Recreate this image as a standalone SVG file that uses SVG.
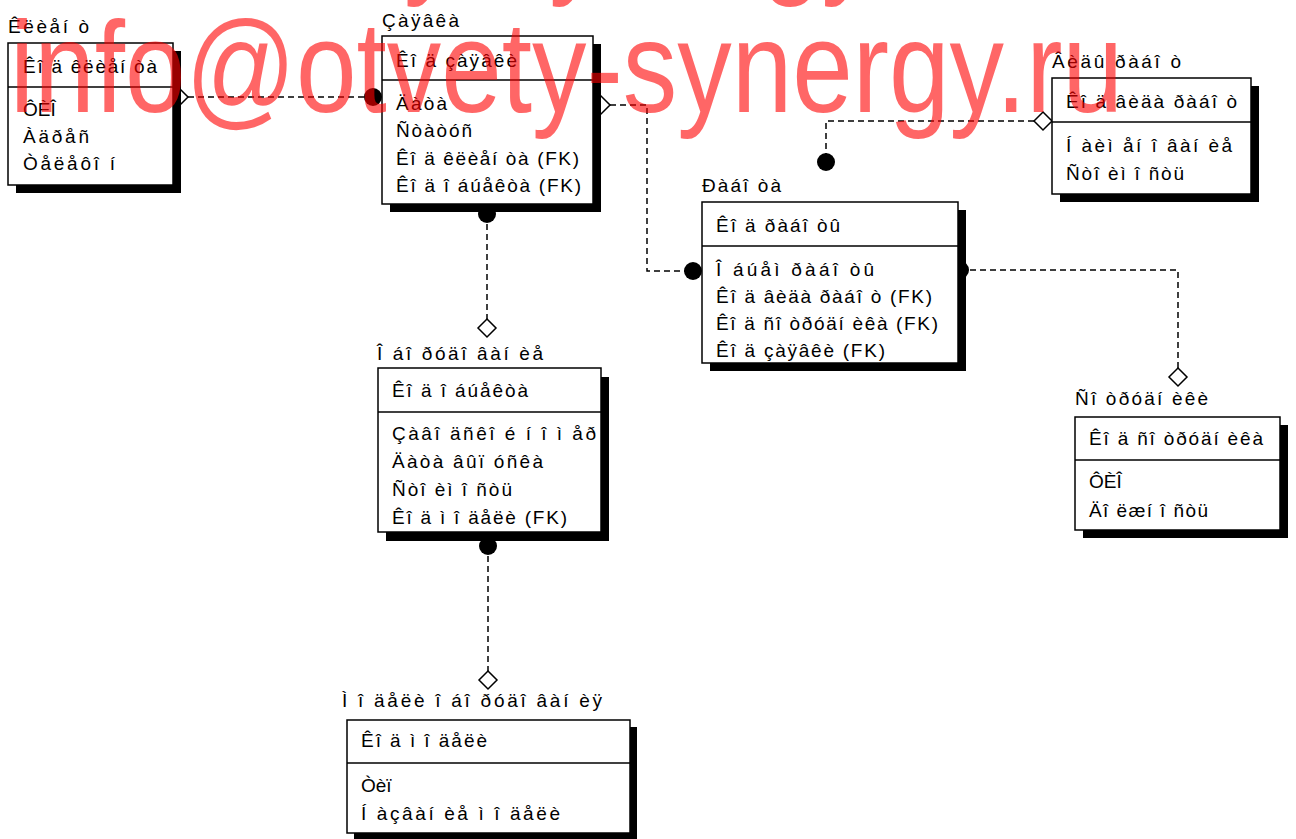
<svg xmlns="http://www.w3.org/2000/svg" width="1296" height="839" viewBox="0 0 1296 839">
<style>
.bg{fill:#ffffff}
.box{fill:#ffffff;stroke:#000;stroke-width:1.5}
.sh{fill:#000}
.dv{stroke:#000;stroke-width:1.5}
.t{font-family:"Liberation Sans",Arial,sans-serif;font-size:19px;fill:#000}
.cn{fill:none;stroke:#000;stroke-width:1.5;stroke-dasharray:6 4}
.dot{fill:#000}
.dia{fill:#fff;stroke:#000;stroke-width:1.5}
.wm{font-family:"Liberation Sans",Arial,sans-serif;font-size:108px;fill:#ff0000;fill-opacity:0.6}
</style>
<rect class="bg" x="0" y="0" width="1296" height="839"/>
<g id="connectors">
  <path class="cn" d="M188,97 H373"/>
  <polygon class="dia" points="170,97 179,88 188,97 179,106"/>
  <circle class="dot" cx="373" cy="97" r="9"/>
  <path class="cn" d="M610,105 H647 V271 H693"/>
  <polygon class="dia" points="592,105 601,96 610,105 601,114"/>
  <circle class="dot" cx="693" cy="271" r="9"/>
  <path class="cn" d="M1034,121 H826 V162"/>
  <polygon class="dia" points="1034,121 1043,112 1052,121 1043,130"/>
  <circle class="dot" cx="826" cy="162" r="9"/>
  <path class="cn" d="M960,270 H1178 V368"/>
  <circle class="dot" cx="960" cy="270" r="9"/>
  <polygon class="dia" points="1178,368 1187,377 1178,386 1169,377"/>
  <path class="cn" d="M487,214 V319"/>
  <circle class="dot" cx="487" cy="214" r="9"/>
  <polygon class="dia" points="487,319 496,328 487,337 478,328"/>
  <path class="cn" d="M488,546 V671"/>
  <circle class="dot" cx="488" cy="546" r="9"/>
  <polygon class="dia" points="488,671 497,680 488,689 479,680"/>
</g>
<g id="klient">
  <rect class="sh" x="16" y="51" width="165" height="142"/>
  <rect class="box" x="8" y="43" width="165" height="142"/>
  <line class="dv" x1="8" y1="87" x2="173" y2="87"/>
  <text class="t" x="8" y="33" textLength="81" lengthAdjust="spacing">Êëèåí ò</text>
  <text class="t" x="23" y="73" textLength="134" lengthAdjust="spacing">Êî ä êëèåí òà</text>
  <text class="t" x="23" y="116">ÔÈÎ</text>
  <text class="t" x="23" y="143" textLength="66" lengthAdjust="spacing">Àäðåñ</text>
  <text class="t" x="23" y="170" textLength="92" lengthAdjust="spacing">Òåëåôî í</text>
</g>
<g id="zayavka">
  <rect class="sh" x="390" y="44" width="211" height="168"/>
  <rect class="box" x="382" y="36" width="211" height="168"/>
  <line class="dv" x1="382" y1="80" x2="593" y2="80"/>
  <text class="t" x="382" y="27" textLength="77" lengthAdjust="spacing">Çàÿâêà</text>
  <text class="t" x="396" y="67" textLength="121" lengthAdjust="spacing">Êî ä çàÿâêè</text>
  <text class="t" x="396" y="110" textLength="51" lengthAdjust="spacing">Äàòà</text>
  <text class="t" x="396" y="137" textLength="76" lengthAdjust="spacing">Ñòàòóñ</text>
  <text class="t" x="396" y="165" textLength="183" lengthAdjust="spacing">Êî ä êëèåí òà (FK)</text>
  <text class="t" x="396" y="192" textLength="185" lengthAdjust="spacing">Êî ä î áúåêòà (FK)</text>
</g>
<g id="vid-rabot">
  <rect class="sh" x="1060" y="86" width="199" height="116"/>
  <rect class="box" x="1052" y="78" width="199" height="116"/>
  <line class="dv" x1="1052" y1="122" x2="1251" y2="122"/>
  <text class="t" x="1052" y="68" textLength="129" lengthAdjust="spacing">Âèäû ðàáî ò</text>
  <text class="t" x="1066" y="108" textLength="171" lengthAdjust="spacing">Êî ä âèäà ðàáî ò</text>
  <text class="t" x="1066" y="152" textLength="166" lengthAdjust="spacing">Í àèì åí î âàí èå</text>
  <text class="t" x="1066" y="180" textLength="118" lengthAdjust="spacing">Ñòî èì î ñòü</text>
</g>
<g id="rabota">
  <rect class="sh" x="710" y="210" width="256" height="161"/>
  <rect class="box" x="702" y="202" width="256" height="161"/>
  <line class="dv" x1="702" y1="246" x2="958" y2="246"/>
  <text class="t" x="702" y="192" textLength="79" lengthAdjust="spacing">Ðàáî òà</text>
  <text class="t" x="716" y="232" textLength="124" lengthAdjust="spacing">Êî ä ðàáî òû</text>
  <text class="t" x="716" y="276" textLength="158" lengthAdjust="spacing">Î áúåì  ðàáî òû</text>
  <text class="t" x="716" y="303" textLength="216" lengthAdjust="spacing">Êî ä âèäà ðàáî ò (FK)</text>
  <text class="t" x="716" y="330" textLength="222" lengthAdjust="spacing">Êî ä ñî òðóäí èêà (FK)</text>
  <text class="t" x="716" y="357" textLength="169" lengthAdjust="spacing">Êî ä çàÿâêè (FK)</text>
</g>
<g id="oborudovanie">
  <rect class="sh" x="386" y="377" width="223" height="164"/>
  <rect class="box" x="378" y="368" width="223" height="164"/>
  <line class="dv" x1="378" y1="412" x2="601" y2="412"/>
  <text class="t" x="377" y="360" textLength="166" lengthAdjust="spacing">Î áî ðóäî âàí èå</text>
  <text class="t" x="392" y="397" textLength="136" lengthAdjust="spacing">Êî ä î áúåêòà</text>
  <text class="t" x="392" y="440" textLength="204" lengthAdjust="spacing">Çàâî äñêî é í î ì åð</text>
  <text class="t" x="392" y="468" textLength="151" lengthAdjust="spacing">Äàòà âûï óñêà</text>
  <text class="t" x="392" y="496" textLength="120" lengthAdjust="spacing">Ñòî èì î ñòü</text>
  <text class="t" x="392" y="524" textLength="175" lengthAdjust="spacing">Êî ä ì î äåëè (FK)</text>
</g>
<g id="sotrudniki">
  <rect class="sh" x="1083" y="425" width="205" height="113"/>
  <rect class="box" x="1075" y="417" width="205" height="113"/>
  <line class="dv" x1="1075" y1="460" x2="1280" y2="460"/>
  <text class="t" x="1075" y="405" textLength="133" lengthAdjust="spacing">Ñî òðóäí èêè</text>
  <text class="t" x="1089" y="445" textLength="174" lengthAdjust="spacing">Êî ä ñî òðóäí èêà</text>
  <text class="t" x="1089" y="488">ÔÈÎ</text>
  <text class="t" x="1089" y="517" textLength="119" lengthAdjust="spacing">Äî ëæí î ñòü</text>
</g>
<g id="modeli">
  <rect class="sh" x="354" y="727" width="283" height="113"/>
  <rect class="box" x="347" y="720" width="283" height="113"/>
  <line class="dv" x1="347" y1="763" x2="630" y2="763"/>
  <text class="t" x="342" y="707" textLength="260" lengthAdjust="spacing">Ì î äåëè î áî ðóäî âàí èÿ</text>
  <text class="t" x="361" y="747" textLength="126" lengthAdjust="spacing">Êî ä ì î äåëè</text>
  <text class="t" x="361" y="792">Òèï</text>
  <text class="t" x="361" y="820" textLength="199" lengthAdjust="spacing">Í àçâàí èå ì î äåëè</text>
</g>
<g id="watermark">
  <text class="wm" transform="translate(-118,-20) scale(1,1.2)" x="0" y="0" textLength="1113" lengthAdjust="spacingAndGlyphs">info@otvety-synergy.ru</text>
  <text class="wm" transform="translate(10,112) scale(1,1.2)" x="0" y="0" textLength="1113" lengthAdjust="spacingAndGlyphs">info@otvety-synergy.ru</text>
</g>
</svg>
